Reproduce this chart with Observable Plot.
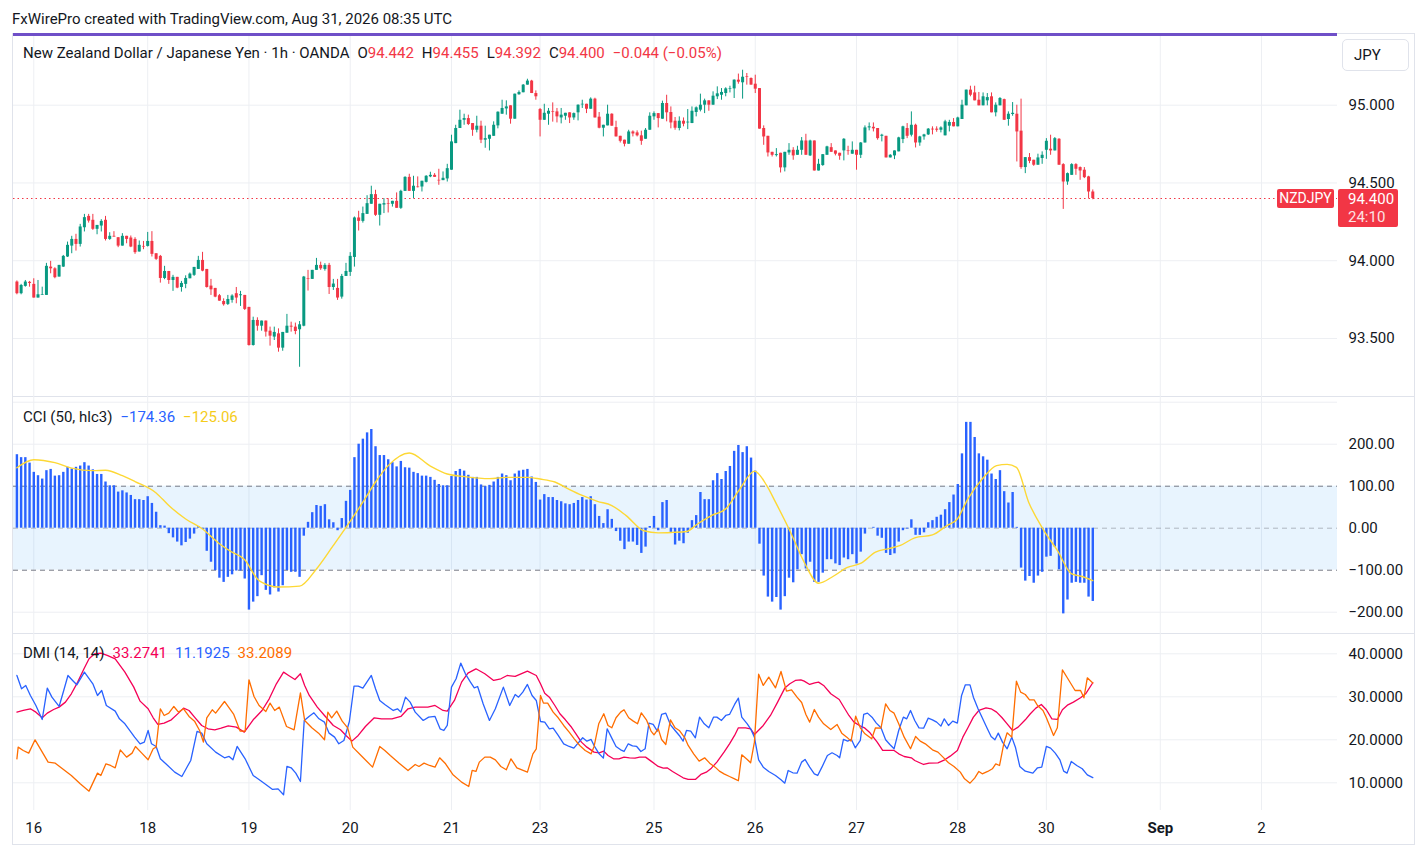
<!DOCTYPE html>
<html><head><meta charset="utf-8">
<script src="https://cdn.jsdelivr.net/npm/d3@7"></script>
<script src="https://cdn.jsdelivr.net/npm/@observablehq/plot@0.6"></script>
<style>
body{margin:0;background:#fff;font-family:Roboto,"Noto Sans",sans-serif;color:#131722}
#root{position:relative;width:1416px;height:845px;overflow:hidden;background:#fff}
.abs{position:absolute}
.leg{position:absolute;left:23px;font-size:15px;line-height:18px;white-space:nowrap;color:#131722}
.leg span{margin-left:8px}
.r{color:#F23645}
</style></head>
<body><div id="root"></div>
<script>
// ---------- DATA ----------
const open = [93.863,93.788,93.835,93.861,93.848,93.760,93.777,93.777,93.959,93.948,
93.895,93.959,94.024,94.094,94.137,94.105,94.212,94.285,94.260,94.202,
94.223,94.260,94.137,94.157,94.148,94.094,94.157,94.146,94.137,94.056,
94.092,94.092,94.124,94.045,94.028,93.886,93.931,93.873,93.893,93.828,
93.848,93.884,93.906,93.944,94.002,93.944,93.837,93.822,93.775,93.738,
93.719,93.745,93.788,93.775,93.777,93.700,93.455,93.616,93.579,93.612,
93.547,93.509,93.530,93.438,93.534,93.579,93.573,93.556,93.579,93.884,
93.880,93.938,93.970,93.944,93.970,93.828,93.822,93.766,93.899,93.925,
94.021,94.275,94.253,94.298,94.363,94.425,94.292,94.358,94.367,94.363,
94.382,94.337,94.446,94.536,94.446,94.474,94.474,94.504,94.539,94.549,
94.517,94.515,94.526,94.582,94.753,94.850,94.903,94.914,94.882,94.839,
94.865,94.775,94.781,94.800,94.867,94.942,94.976,94.996,94.910,95.067,
95.080,95.129,95.155,95.075,94.972,94.903,94.942,94.959,94.957,94.918,
94.929,94.951,94.918,94.951,95.002,95.006,94.974,95.039,94.923,94.852,
94.867,94.942,94.856,94.800,94.775,94.749,94.828,94.822,94.803,94.781,
94.839,94.925,94.946,94.910,95.011,94.953,94.897,94.850,94.897,94.886,
94.882,94.953,94.968,95.000,95.028,95.000,95.054,95.064,95.075,95.103,
95.105,95.161,95.144,95.182,95.172,95.135,95.107,94.850,94.800,94.697,
94.676,94.691,94.597,94.693,94.710,94.678,94.710,94.770,94.674,94.770,
94.577,94.612,94.678,94.727,94.706,94.691,94.706,94.706,94.685,94.710,
94.678,94.757,94.854,94.858,94.850,94.800,94.800,94.661,94.674,94.700,
94.779,94.850,94.807,94.871,94.757,94.796,94.809,94.846,94.846,94.839,
94.803,94.865,94.889,94.861,94.908,94.996,95.097,95.079,95.032,94.996,
95.028,95.054,94.951,94.996,95.036,94.908,94.940,94.942,94.833,94.599,
94.663,94.646,94.614,94.657,94.710,94.717,94.706,94.781,94.618,94.506,
94.549,94.618,94.599,94.582,94.539,94.442];
const high = [93.870,93.848,93.873,93.867,93.884,93.873,93.830,93.983,93.996,93.955,
93.970,94.034,94.120,94.157,94.170,94.234,94.298,94.298,94.298,94.227,
94.264,94.285,94.180,94.187,94.148,94.174,94.157,94.159,94.148,94.127,
94.124,94.182,94.187,94.045,94.034,93.964,93.931,93.906,93.893,93.867,
93.903,93.921,93.957,94.028,94.054,93.944,93.880,93.822,93.783,93.755,
93.777,93.781,93.828,93.803,93.777,93.700,93.637,93.633,93.612,93.612,
93.573,93.573,93.562,93.539,93.655,93.605,93.599,93.609,93.899,93.938,
93.938,94.015,93.991,93.981,93.983,93.880,93.880,93.912,93.983,94.052,
94.281,94.318,94.345,94.418,94.479,94.453,94.363,94.399,94.399,94.382,
94.436,94.453,94.540,94.556,94.543,94.539,94.511,94.547,94.569,94.560,
94.588,94.571,94.620,94.807,94.871,94.968,94.942,94.936,94.882,94.929,
94.897,94.865,94.807,94.893,94.957,95.032,95.028,94.996,95.071,95.092,
95.133,95.167,95.160,95.092,94.979,95.006,94.979,95.015,94.979,94.979,
94.948,94.951,94.950,95.002,95.032,95.006,95.047,95.045,94.953,94.871,
95.000,94.945,94.897,94.800,94.775,94.839,94.835,94.835,94.833,94.850,
94.951,94.957,94.946,95.026,95.064,94.989,94.921,94.925,94.918,94.972,
94.989,94.989,95.071,95.039,95.028,95.086,95.118,95.107,95.112,95.122,
95.163,95.200,95.225,95.204,95.175,95.193,95.107,94.867,94.800,94.697,
94.721,94.691,94.697,94.753,94.727,94.736,94.792,94.813,94.775,94.770,
94.652,94.682,94.736,94.753,94.706,94.691,94.785,94.736,94.764,94.710,
94.760,94.867,94.886,94.886,94.850,94.813,94.800,94.682,94.706,94.794,
94.865,94.882,94.957,94.878,94.800,94.813,94.850,94.861,94.861,94.861,
94.903,94.903,94.914,94.923,95.032,95.097,95.122,95.122,95.082,95.079,
95.075,95.079,95.015,95.049,95.039,94.957,95.017,95.000,95.039,94.663,
94.689,94.646,94.685,94.700,94.785,94.807,94.792,94.785,94.624,94.564,
94.624,94.624,94.603,94.599,94.543,94.455];
const low = [93.781,93.781,93.830,93.830,93.760,93.760,93.777,93.777,93.916,93.884,
93.895,93.957,94.021,94.045,94.062,94.088,94.185,94.242,94.195,94.167,
94.185,94.127,94.131,94.152,94.084,94.094,94.109,94.084,94.041,94.056,
94.071,94.088,94.024,94.002,93.856,93.878,93.848,93.803,93.820,93.798,
93.820,93.884,93.899,93.944,93.929,93.824,93.777,93.762,93.740,93.708,
93.712,93.727,93.723,93.706,93.680,93.451,93.451,93.547,93.547,93.509,
93.451,93.487,93.412,93.418,93.534,93.541,93.524,93.315,93.575,93.805,
93.880,93.938,93.938,93.933,93.783,93.809,93.745,93.753,93.899,93.899,
93.959,94.191,94.242,94.298,94.363,94.285,94.223,94.303,94.307,94.345,
94.337,94.330,94.446,94.446,94.399,94.468,94.442,94.500,94.534,94.536,
94.485,94.515,94.506,94.582,94.753,94.850,94.871,94.869,94.800,94.822,
94.753,94.723,94.706,94.800,94.848,94.942,94.936,94.878,94.910,95.064,
95.080,95.129,95.075,95.032,94.796,94.903,94.871,94.891,94.886,94.880,
94.903,94.882,94.903,94.899,94.979,94.946,94.974,94.918,94.848,94.796,
94.867,94.865,94.796,94.757,94.732,94.749,94.796,94.796,94.742,94.781,
94.839,94.903,94.854,94.910,94.893,94.848,94.839,94.835,94.861,94.843,
94.882,94.925,94.957,94.946,94.961,95.000,95.036,95.032,95.054,95.079,
95.043,95.135,95.039,95.129,95.129,95.075,94.846,94.742,94.667,94.667,
94.667,94.564,94.571,94.678,94.646,94.678,94.678,94.678,94.670,94.577,
94.577,94.607,94.678,94.697,94.674,94.646,94.642,94.678,94.685,94.582,
94.657,94.757,94.835,94.828,94.775,94.764,94.661,94.661,94.650,94.700,
94.753,94.785,94.796,94.725,94.736,94.775,94.805,94.809,94.826,94.822,
94.803,94.828,94.861,94.861,94.908,94.996,95.054,95.028,94.996,94.996,
94.996,94.951,94.925,94.996,94.903,94.865,94.929,94.635,94.588,94.560,
94.624,94.607,94.614,94.620,94.652,94.678,94.706,94.614,94.330,94.485,
94.549,94.549,94.517,94.528,94.399,94.392];
const close = [93.788,93.841,93.863,93.854,93.760,93.781,93.781,93.964,93.948,93.891,
93.970,94.028,94.099,94.137,94.105,94.217,94.277,94.255,94.202,94.227,
94.253,94.137,94.157,94.152,94.094,94.157,94.137,94.088,94.052,94.099,
94.088,94.124,94.041,94.009,93.886,93.931,93.873,93.893,93.824,93.854,
93.886,93.914,93.957,94.002,93.933,93.828,93.813,93.766,93.740,93.717,
93.751,93.773,93.760,93.781,93.687,93.455,93.616,93.579,93.612,93.541,
93.515,93.539,93.438,93.539,93.579,93.573,93.545,93.588,93.895,93.880,
93.938,93.970,93.948,93.970,93.828,93.850,93.760,93.899,93.931,94.028,
94.275,94.253,94.303,94.367,94.425,94.292,94.363,94.367,94.363,94.382,
94.337,94.446,94.536,94.446,94.479,94.470,94.511,94.543,94.549,94.536,
94.513,94.530,94.592,94.764,94.850,94.903,94.914,94.876,94.839,94.865,
94.775,94.785,94.807,94.871,94.955,94.979,94.989,94.910,95.071,95.082,
95.129,95.155,95.075,95.054,94.903,94.948,94.961,94.955,94.925,94.936,
94.948,94.918,94.946,95.000,95.006,94.974,95.039,94.918,94.852,94.871,
94.942,94.865,94.796,94.768,94.749,94.828,94.815,94.803,94.768,94.839,
94.929,94.946,94.914,95.011,94.951,94.886,94.852,94.897,94.878,94.891,
94.961,94.983,95.000,95.028,95.000,95.058,95.073,95.082,95.105,95.107,
95.161,95.148,95.180,95.178,95.129,95.103,94.846,94.796,94.693,94.678,
94.682,94.597,94.697,94.710,94.674,94.710,94.770,94.678,94.770,94.577,
94.620,94.682,94.732,94.697,94.685,94.672,94.781,94.702,94.710,94.678,
94.757,94.854,94.861,94.848,94.785,94.807,94.661,94.678,94.706,94.790,
94.861,94.800,94.871,94.757,94.796,94.809,94.846,94.841,94.839,94.854,
94.893,94.889,94.861,94.918,95.000,95.097,95.064,95.028,94.996,95.054,
95.049,94.951,95.000,95.043,94.903,94.942,94.948,94.828,94.599,94.663,
94.639,94.614,94.661,94.678,94.768,94.706,94.785,94.614,94.506,94.560,
94.618,94.588,94.577,94.534,94.442,94.400];

const cci = [175,168,168,155,133,125,117,137,140,124,
125,133,145,141,145,148,156,148,139,128,
128,110,101,101,86,89,84,78,68,68,
66,75,59,38,6,5,-13,-23,-33,-42,
-34,-26,-14,4,-3,-55,-81,-101,-119,-129,
-117,-111,-102,-102,-121,-195,-176,-163,-113,-148,
-159,-142,-152,-137,-101,-105,-105,-117,-19,14,
37,54,52,56,20,13,-6,23,64,90,
168,200,212,227,235,194,173,173,163,156,
146,159,144,143,133,130,124,124,121,114,
104,101,101,123,135,140,136,126,121,121,
103,99,102,110,121,129,125,113,129,136,
138,140,122,109,67,80,73,73,66,63,
58,56,59,66,73,67,75,56,28,11,
44,21,-8,-31,-51,-33,-33,-41,-60,-45,
4,28,-6,61,66,-10,-40,-31,-37,-12,
18,30,85,68,68,113,130,116,135,147,
183,197,180,194,167,136,-38,-114,-164,-176,
-165,-195,-163,-119,-130,-99,-63,-97,-81,-129,
-129,-107,-75,-75,-85,-89,-71,-75,-63,-85,
-57,-14,0,2,-19,-24,-60,-65,-61,-33,
-6,-2,20,-17,-17,-11,13,18,26,31,
44,61,79,104,177,252,252,216,177,170,
162,129,116,137,87,60,85,2,-95,-126,
-115,-131,-114,-105,-69,-67,-45,-99,-204,-171,
-131,-129,-131,-131,-164,-174.36];

// CCI moving average, read at points [bar index, value]
const cciMa = [[0,144],[4,163],[9,156],[13,143],[18,137],[21,138],[25,125],[28,111],[33,84],[36,54],[40,22],[44,-2],[48,-37],[51,-57],[54,-75],[57,-121],[60,-137],[62,-140],[67,-138],[71,-97],[75,-41],[78,2],[82,62],[85,110],[88,149],[93,179],[98,148],[102,129],[106,123],[112,118],[116,121],[121,121],
[124,117],[127.5,110],[131,92],[134,78],[137.6,64],[141,54],[144.4,30],[148.6,-6],[152,-11],[155.3,-10],[158.7,-8],[161.3,10],[164.6,30],[168,46],[171.4,94],[174.8,136],[177.7,102],[179.8,62],[183.2,-6],[186.6,-81],[190,-131],[193.4,-115],[196.7,-94],[200.1,-83],[203.5,-57],[206.9,-48],[209.4,-41],[212.8,-23],[217,-16],[220.4,6],[222.9,22],[225.4,70],[228.8,117],[232.2,149],[234.7,152],[236.9,145],[239.8,62],[243.2,-2],[246.6,-53],[250,-109],[252.5,-115],[255,-125.06]];

const adx = [[0,26.43],[1.5,26.82],[3.2,27.21],[4.5,26.43],[6,25.12],[7.2,26.2],[8.7,27.05],[10,27.6],[11.5,28.76],[12.9,30.7],[14.4,33.41],[15.9,36.51],[17.1,38.84],[18.4,40],[19.9,40.16],[21.4,39.61],[23.3,38.84],[25.6,35.74],[27.7,32.25],[29.2,28.99],[31.1,27.21],[32.3,25.12],[33.4,23.57],[34.9,23.88],[36.6,24.65],[38.3,26.2],[39.5,27.36],[40.8,26.82],[42.1,25.27],[43.8,23.33],[45.3,22.56],[46.9,22.33],[48.4,22.71],[50.1,23.26],[52,22.95],[53.9,21.78],[56,24.65],[58.1,26.82],[59.8,29.53],[61.5,33.02],[63.2,35.74],[64.4,34.96],[65.9,34.03],[67.2,35.35],[68.2,32.64],[69.3,30.31],[71.2,27.6],[72.9,25.66],[75,23.33],[76.7,22.33],[78,21.01],[79.4,19.69],[80.9,21.01],[82.6,23.1],[84.7,25.12],[86.4,24.88],[88.9,24.88],[91,25.43],[92.7,27.21],[94.4,27.6],[97.4,27.6],[99.1,27.98],[101,26.82],[102,26.67],[103.7,29.15],[105.4,33.41],[106.9,35.5],[108.8,36.51],[110.9,35.35],[113,33.8],[114.7,34.19],[116.2,34.96],[118.1,34.73],[121,35.97],[123.1,34.96],
[124.1,33.02],[125.1,30.85],[126.2,29.92],[127.5,27.98],[128.7,26.05],[130,24.65],[131.3,23.1],[132.5,21.4],[133.8,19.46],[135.1,18.29],[136.8,17.13],[138,16.98],[139.1,17.36],[140.1,16.36],[141.4,15.58],[142.7,15.58],[143.9,15.97],[145.2,15.81],[146.5,15.74],[147.6,15.97],[149,15.97],[150.3,15.04],[152,13.8],[153.2,13.41],[154.1,13.49],[155.4,12.64],[156.6,11.94],[157.9,11.16],[159.1,10.78],[160.8,10.78],[162.1,11.94],[163.4,12.48],[164.6,13.41],[165.9,14.81],[167.6,17.13],[168.9,19.07],[170.1,21.01],[171,22.79],[172.7,22.79],[173.9,22.56],[174.8,21.24],[176.9,23.33],[178.6,25.66],[180.3,28.76],[182,32.02],[183.2,33.02],[184.5,33.8],[185.8,33.95],[186.6,33.64],[187.9,32.87],[189.1,33.26],[190,33.41],[191.2,32.64],[192.9,30.7],[194.9,29.38],[195.9,27.75],[197.2,25.66],[198.4,24.11],[199.7,23.33],[201,22.71],[202.2,21.63],[203.9,19.46],[205.2,17.52],[206.4,17.52],[207.9,17.52],[209,16.74],[210.3,16.12],[212,15.81],[212.8,15.19],[214.9,14.26],[216.2,14.57],[218.3,14.65],[219.9,15.35],[221.2,16.2],[222.9,17.52],[224.2,20.62],[225.4,22.79],[226.7,25.27],[228,26.82],[229.7,27.44],[230.9,27.21],[232.2,26.43],[233.5,25.12],[234.7,23.72],[236,22.17],[237.3,22.95],[239,24.65],[240.2,26.05],[241.5,27.36],[242.8,28.22],[244,26.98],[245.3,24.88],[246.6,24.73],[247.8,26.98],[249.1,28.14],[250.4,28.76],[252.1,29.77],[253.3,30.7],[255,33.27]];

const plusDI = [[0,34.96],[1.1,31.86],[2.1,32.64],[3.2,30.31],[4.5,27.98],[6,24.73],[7.2,32.02],[8.3,29.92],[10,27.75],[11.1,31.47],[12.1,34.96],[13.2,33.8],[14.2,32.79],[16,35.74],[18,33.02],[19.1,30.31],[20.1,31.47],[21.2,27.98],[23.3,26.67],[24.3,24.88],[25.6,23.72],[27.9,20.62],[29.2,19.07],[30.2,19.46],[31.1,22.17],[31.9,19.07],[33,18.45],[34,15.58],[35.3,14.42],[37.4,12.48],[39.1,11.47],[40.4,13.8],[41.2,15.19],[42.7,21.94],[43.8,21.55],[45,19.07],[47.1,17.13],[49.2,15.81],[50.3,16.12],[51.2,15.35],[52.2,18.45],[54.1,15.58],[56,11.71],[57.7,10.54],[59,9.61],[60.6,8.45],[61.9,8.6],[63.2,7.21],[64,13.8],[65,13.49],[66.1,12.25],[67.2,10.31],[68.1,24.5],[69.3,25.5],[70.4,26.28],[71.6,24.88],[72.9,24.11],[74,21.55],[75.3,20.62],[76.3,19.07],[77.5,19.84],[78.8,24.26],[79.9,32.48],[80.9,32.48],[82,32.02],[84,34.96],[85,31.86],[86,29.15],[87.2,28.22],[89.2,26.82],[90.2,27.21],[91,26.43],[92.1,29.92],[93.2,28.76],[94.4,26.43],[96.3,24.5],[97.6,25.27],[99.1,25.43],[100.3,22.56],[101.2,22.17],[102,23.33],[103,32.25],[104.1,34.19],[105.2,37.83],[106.3,35.35],[107.5,33.41],[108.4,32.09],[109.2,32.4],[110.5,28.37],[112,24.5],[113.4,27.21],[115.3,32.25],[116.8,27.98],[118.1,30.54],[118.9,29.92],[119.9,31.09],[121,32.87],[122.1,30.31],[123.1,29.15],
[124.1,24.26],[125.1,24.11],[126.2,22.56],[127.1,22.71],[128.3,21.01],[129.6,19.07],[130.9,18.45],[132,18.06],[133,19.22],[134.1,20.47],[135.1,19.69],[136.1,20.08],[136.9,18.45],[138,16.74],[139,15.74],[139.9,22.56],[141,20.39],[142,18.45],[143.1,17.67],[143.9,17.29],[144.9,19.07],[145.9,18.6],[146.9,18.45],[147.9,17.29],[148.9,17.91],[149.8,23.88],[150.8,23.57],[151.8,22.02],[152.8,25.89],[153.8,26.2],[154.9,23.49],[156,22.17],[157,21.01],[157.9,19.69],[158.7,22.17],[159.7,22.02],[160.8,20.47],[161.8,25.27],[162.9,23.72],[164,22.79],[165.1,25.27],[165.9,25.27],[167,24.5],[168,25.66],[168.9,25.89],[170.1,28.22],[171,29.69],[171.8,25.27],[173.1,23.72],[173.9,22.56],[174.8,20.62],[175.8,15.35],[176.9,13.64],[178.2,12.64],[179.8,11.71],[181.1,10.7],[182,9.92],[182.8,12.87],[183.9,12.33],[184.9,12.25],[186,14.81],[186.8,15.43],[187.9,13.64],[189,12.09],[189.8,11.71],[190.8,13.64],[192.1,16.36],[193.2,16.98],[194.4,16.36],[195,15.81],[195.9,20.08],[196.9,19.69],[197.8,20.08],[198.7,18.14],[199.9,19.84],[200.7,25.89],[201.6,26.2],[202.8,25.12],[203.7,23.88],[204.8,22.79],[205.9,20],[206.9,18.91],[207.9,17.91],[209,22.17],[210.1,25.27],[210.9,24.88],[211.8,26.82],[212.8,24.5],[213.8,22.79],[214.9,22.71],[216,25.04],[217,24.65],[218,24.11],[219,23.18],[219.8,24.88],[220.8,23.33],[221.8,24.34],[222.9,23.88],[223.9,30.31],[224.8,32.79],[225.9,32.79],[226.7,29.92],[227.8,27.21],[228.8,25.12],[229.9,22.79],[230.9,20.78],[231.8,20],[232.6,21.55],[233.6,19.46],[234.7,17.91],[235.8,20.62],[236.7,18.14],[237.7,13.8],[239,12.71],[240.8,12.25],[241.9,13.49],[242.9,13.64],[244,18.45],[245,18.06],[246.1,16.9],[247.2,15.35],[248.1,12.71],[248.9,12.25],[249.9,14.96],[251.2,14.03],[252.5,13.26],[253.7,11.86],[255,11.19]];

const minusDI = [[0,15.58],[0.3,18.29],[1.5,17.52],[2.8,16.9],[4.3,20],[5.7,17.67],[7.4,14.81],[9.1,14.57],[10.8,13.26],[12.9,11.71],[15,9.77],[17.1,8.06],[19.1,12.25],[19.9,11.71],[21.1,14.42],[22.2,14.03],[23.3,13.49],[24.5,17.67],[26,15.97],[27.3,16.9],[28.1,18.45],[29.6,16.9],[31.1,15.35],[32.3,17.91],[33,18.29],[34,27.21],[34.9,25.66],[36,26.2],[37.2,27.75],[38.3,26.43],[39.5,27.21],[40.8,25.43],[42.1,24.34],[43.3,22.17],[44.2,19.46],[45,25.12],[46.3,26.98],[47.1,26.2],[49.2,28.91],[51.4,25.89],[52.9,22.02],[54.1,22.02],[55,33.95],[56.2,30.08],[57.4,27.98],[59,26.59],[60,28.53],[61.1,26.82],[62.2,27.6],[63.9,23.1],[65.7,22.33],[67.2,30.93],[68.2,24.5],[69.9,22.79],[71.5,21.55],[72.9,20],[73.7,26.43],[74.6,25.12],[75.8,26.67],[77.1,24.34],[78.4,22.79],[79.6,18.29],[81.8,16.12],[84.3,13.64],[86,18.45],[87.2,17.52],[88.5,16.36],[90.6,14.57],[92.7,12.87],[94.4,14.26],[95.3,13.8],[96.5,14.57],[97.8,14.03],[99.1,13.64],[100.2,15.81],[101.6,14.42],[103.3,11.94],[105.4,10.16],[107.1,9.15],[107.9,12.87],[108.8,12.64],[109.6,14.81],[110.9,15.97],[112.2,15.97],[113.4,15.35],[114.7,13.8],[116,13.02],[117.1,15.58],[118.5,13.49],[121,12.48],[122.3,16.74],[123.1,17.91],
[124.1,30.31],[124.8,28.53],[125.8,28.53],[127.1,26.43],[128.3,25.12],[129.6,23.33],[130.9,21.78],[132.1,20.23],[133.4,18.68],[134.7,17.52],[136.1,16.74],[136.8,18.45],[137.9,23.72],[139.1,26.05],[140.1,23.33],[141,22.79],[142,25.12],[143.1,26.43],[143.9,26.98],[145,25.12],[146.1,24.34],[147.1,23.72],[148,26.28],[149.2,24.65],[150.3,22.02],[151,21.16],[152,22.56],[152.8,20.08],[153.8,18.91],[154.9,24.65],[156,22.79],[157,22.17],[158.3,20.47],[159.1,18.68],[160.4,16.74],[161.7,15.04],[163,15.81],[164.2,14.57],[165.5,13.64],[166.5,12.71],[167.6,12.09],[168.9,11.47],[170.1,10.93],[171,10.47],[171.8,16.51],[173.1,15.43],[173.9,14.65],[174.8,19.46],[175.8,35.27],[176.9,32.64],[178.2,34.57],[179.8,32.09],[181.1,35.89],[182.4,31.32],[183.6,31.63],[184.9,29.92],[186,28.68],[187,25.89],[187.9,24.11],[189,27.05],[190,25.27],[191.2,23.72],[192.9,22.4],[194.4,23.57],[195.5,21.55],[196.7,20.62],[197.7,19.69],[198.4,23.33],[198.8,25.5],[199.9,22.79],[201,21.4],[202.6,20.23],[203.5,22.79],[204.8,22.71],[205.9,28.37],[206.9,26.82],[207.9,26.2],[209,23.72],[210.3,20.62],[211.8,17.91],[213,20.78],[214.1,19.69],[215.3,19.07],[217,17.67],[218.3,17.13],[219.5,15.97],[220.8,14.65],[222.1,13.8],[223.6,12.48],[224.6,10.93],[225.9,9.92],[227,11.09],[228,12.64],[228.8,12.09],[230.1,12.64],[231.2,13.26],[232,14.42],[232.9,14.03],[233.9,19.07],[234.7,21.63],[235.8,20.62],[236.9,33.64],[237.9,31.09],[239,30.54],[240,29.3],[241.1,29.3],[241.9,27.98],[243.2,26.82],[244,25.12],[245.7,21.01],[246.6,22.79],[247.8,36.28],[249.1,34.19],[250.8,31.47],[252.1,31.47],[252.9,29.77],[253.7,34.42],[255,33.21]];

// time axis: bar index where each labelled day starts
const dayTickIdx = [4,31,55,79,103,124,151,175,199,223,244,271,295];
const dayTickLabels = ["16","18","19","20","21","23","25","26","27","28","30","Sep","2"];
const priceTicks = [93.5,94.0,94.5,95.0];
const cciTicks = [-200,-100,0,100,200];
const cciGridLevels = [-200,200,300];
const cciBandLevels = [-100,100];
const dmiTicks = [10,20,30,40];

// ---------- BUILD ----------
const UP = "#089981", DOWN = "#F23645", GRID = "#EDEFF3";
const X_DOMAIN = [-0.806, 313.0];
const FS = 15;
const candles = close.map((c, i) => ({i, o: open[i], h: high[i], l: low[i], c}));
const ups = candles.filter(d => d.c >= d.o), downs = candles.filter(d => d.c < d.o);
const cciData = cci.map((v, i) => ({i, v}));
const ticks = dayTickIdx.map((i, k) => ({i, label: dayTickLabels[k]}));
const fmtMinus = s => s.replace("-", "\u2212");

const common = {
  width: 1416, marginLeft: 13, marginRight: 79,
  x: {domain: X_DOMAIN, axis: null},
  style: {fontFamily: "Roboto, 'Noto Sans', sans-serif", fontSize: FS + "px", color: "#131722", background: "transparent", overflow: "visible"}
};
const yAxis = (t, f) => Plot.axisY(t, {anchor: "right", tickSize: 0, tickPadding: 11, tickFormat: f, label: null, fontSize: FS});

const priceChart = Plot.plot({
  ...common, height: 361, marginTop: 0, marginBottom: 0,
  y: {domain: [93.1206, 95.4417], label: null},
  marks: [
    Plot.ruleY(priceTicks, {stroke: GRID}),
    Plot.ruleX(dayTickIdx, {stroke: GRID}),
    Plot.ruleY([close[close.length - 1]], {stroke: "#F23645", strokeDasharray: "1.5,3"}),
    Plot.ruleX(ups, {x: "i", y1: "l", y2: "h", stroke: UP}),
    Plot.ruleX(downs, {x: "i", y1: "l", y2: "h", stroke: DOWN}),
    Plot.ruleX(ups, {x: "i", y1: "o", y2: "c", stroke: UP, strokeWidth: 3}),
    Plot.ruleX(downs, {x: "i", y1: "o", y2: "c", stroke: DOWN, strokeWidth: 3}),
    yAxis(priceTicks, d => d.toFixed(3))
  ]
});

const cciChart = Plot.plot({
  ...common, height: 236, marginTop: 0, marginBottom: 0,
  y: {domain: [-250.7, 311.2], label: null},
  marks: [
    Plot.ruleY(cciGridLevels, {stroke: GRID}),
    Plot.ruleX(dayTickIdx, {stroke: GRID}),
    Plot.rect([cciBandLevels], {x1: () => X_DOMAIN[0], x2: () => X_DOMAIN[1], y1: d => d[0], y2: d => d[1], fill: "#2196F3", fillOpacity: 0.1}),
    Plot.ruleY(cciBandLevels, {stroke: "#787B86", strokeDasharray: "5,4"}),
    Plot.ruleY([0], {stroke: "#787B86", strokeOpacity: 0.5, strokeDasharray: "5,4"}),
    Plot.ruleX(cciData, {x: "i", y1: () => 0, y2: "v", stroke: "#2962FF", strokeWidth: 2.4}),
    Plot.line(cciMa, {x: d => d[0], y: d => d[1], stroke: "#FDD835", strokeWidth: 1.4, curve: "monotone-x"}),
    yAxis(cciTicks, d => fmtMinus(d.toFixed(2)))
  ]
});

const dmiChart = Plot.plot({
  ...common, height: 212, marginTop: 0, marginBottom: 35,
  y: {domain: [3.56, 44.72], label: null},
  marks: [
    Plot.ruleY(dmiTicks, {stroke: GRID}),
    Plot.ruleX(dayTickIdx, {stroke: GRID}),
    Plot.line(adx, {x: d => d[0], y: d => d[1], stroke: "#F50057", strokeWidth: 1.3}),
    Plot.line(plusDI, {x: d => d[0], y: d => d[1], stroke: "#2962FF", strokeWidth: 1.3}),
    Plot.line(minusDI, {x: d => d[0], y: d => d[1], stroke: "#FF6D00", strokeWidth: 1.3}),
    yAxis(dmiTicks, d => d.toFixed(4)),
    Plot.text(ticks.filter(d => d.label !== "Sep"), {x: "i", text: "label", frameAnchor: "bottom", lineAnchor: "middle", dy: 18, fontSize: FS, fill: "#131722"}),
    Plot.text(ticks.filter(d => d.label === "Sep"), {x: "i", text: "label", frameAnchor: "bottom", lineAnchor: "middle", dy: 18, fontSize: FS, fontWeight: "bold", fill: "#131722"})
  ]
});

const root = document.getElementById("root");
function place(el, top) { const w = document.createElement("div"); w.className = "abs"; w.style.left = "0px"; w.style.top = top + "px"; w.appendChild(el); root.appendChild(w); return w; }
function html(s) { root.insertAdjacentHTML("beforeend", s); }

// frame
html(`<div class="abs" style="left:12px;top:33px;width:1401px;height:810px;border:1px solid #E0E3EB"></div>`);
html(`<div class="abs" style="left:12px;top:396px;width:1402px;height:1px;background:#E0E3EB"></div>`);
html(`<div class="abs" style="left:12px;top:633px;width:1402px;height:1px;background:#E0E3EB"></div>`);

place(priceChart, 36);
place(cciChart, 397);
place(dmiChart, 633);

html(`<div class="abs" style="left:13px;top:33px;width:1324px;height:3px;background:#6F4FC8"></div>`);
html(`<div class="abs" style="left:12px;top:10px;font-size:15px;line-height:18px;color:#131722;white-space:nowrap">FxWirePro created with TradingView.com, Aug 31, 2026 08:35 UTC</div>`);
html(`<div class="abs" style="left:1342px;top:39px;width:65px;height:30px;border:1px solid #E0E3EB;border-radius:5px;background:#fff"></div>`);
html(`<div class="abs" style="left:1354px;top:46px;font-size:15px;line-height:18px;color:#131722">JPY</div>`);

// legends
html(`<div class="leg" style="top:44px">New Zealand Dollar / Japanese Yen · 1h · OANDA<span>O<span class="r" style="margin:0">${open[255].toFixed(3)}</span></span><span>H<span class="r" style="margin:0">${high[255].toFixed(3)}</span></span><span>L<span class="r" style="margin:0">${low[255].toFixed(3)}</span></span><span>C<span class="r" style="margin:0">${close[255].toFixed(3)}</span></span><span class="r">\u22120.044 (\u22120.05%)</span></div>`);
html(`<div class="leg" style="top:408px">CCI (50, hlc3)<span style="color:#2962FF">${fmtMinus(cci[255].toFixed(2))}</span><span style="color:#F5CC1B">${fmtMinus(cciMa[cciMa.length-1][1].toFixed(2))}</span></div>`);
html(`<div class="leg" style="top:644px">DMI (14, 14)<span style="color:#F50057">33.2741</span><span style="color:#2962FF">11.1925</span><span style="color:#FF6D00">33.2089</span></div>`);

// last price tags, positioned through the price scale
const yLast = 36 + priceChart.scale("y").apply(close[255]);
html(`<div class="abs" style="left:1277px;top:${yLast - 9.5}px;width:57px;height:19px;background:#F23645;border-radius:2px;color:#fff;font-size:14px;line-height:19px;text-align:center">NZDJPY</div>`);
html(`<div class="abs" style="left:1338px;top:${yLast - 9.5}px;width:60px;height:38px;background:#F23645;border-radius:2px;color:#fff;font-size:15px;line-height:18px;padding-left:10px;box-sizing:border-box;padding-top:1px">${close[255].toFixed(3)}<br><span style="opacity:0.85">24:10</span></div>`);
</script></body></html>
